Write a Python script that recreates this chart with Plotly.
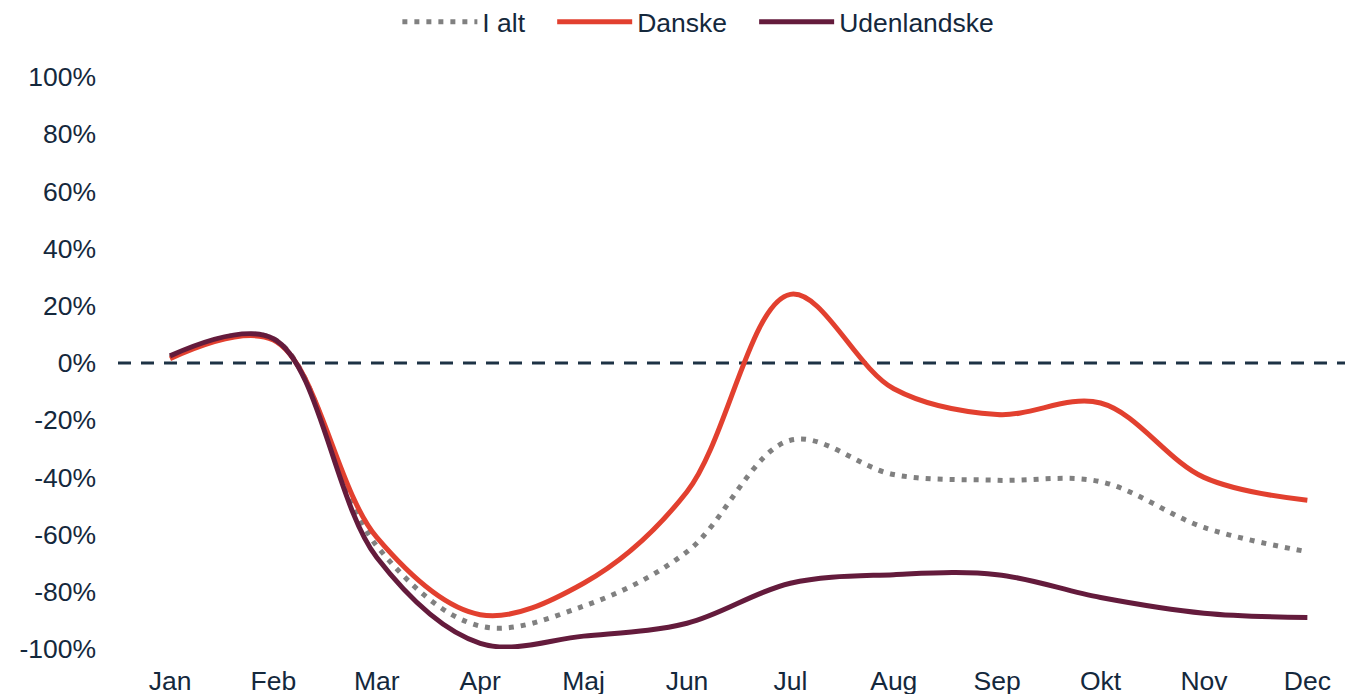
import plotly.graph_objects as go

months = ["Jan", "Feb", "Mar", "Apr", "Maj", "Jun", "Jul", "Aug", "Sep", "Okt", "Nov", "Dec"]
i_alt = [2, 8.5, -64, -92, -85, -66, -27, -39, -41, -41.5, -57.5, -66]
danske = [1.5, 8, -61, -88, -77, -45, 24, -9, -18, -14, -40, -48]
udenlandske = [2.5, 8.5, -68, -98, -95.5, -91, -77, -74, -74, -82, -87.5, -89]
y_ticks = [-100, -80, -60, -40, -20, 0, 20, 40, 60, 80, 100]

x = list(range(len(months)))
TEXT = "#14283C"
FONT = "Liberation Sans, Arial, sans-serif"
FS = 26.5
PAD = "\u00a0\u00a0\u00a0"

fig = go.Figure()
fig.add_trace(go.Scatter(x=x, y=i_alt, name="I alt" + PAD, mode="lines",
                         line=dict(color="#808080", width=5, dash="5px,7px", shape="spline", smoothing=1)))
fig.add_trace(go.Scatter(x=x, y=danske, name="Danske" + PAD, mode="lines",
                         line=dict(color="#E2402F", width=5, shape="spline", smoothing=1)))
fig.add_trace(go.Scatter(x=x, y=udenlandske, name="Udenlandske", mode="lines",
                         line=dict(color="#641B3C", width=5, shape="spline", smoothing=1)))

fig.add_shape(type="line", xref="paper", yref="y", x0=0, x1=1, y0=0, y1=0,
              line=dict(color="#1D3245", width=3, dash="13px,10px"), layer="below")

fig.update_layout(
    width=1352, height=694,
    margin=dict(l=118, r=7, t=77, b=45),
    paper_bgcolor="white", plot_bgcolor="white",
    font=dict(family=FONT, size=FS, color=TEXT),
    showlegend=True,
    legend=dict(orientation="h", x=0.473, xanchor="center", y=0.9683, yanchor="middle",
                yref="container",
                font=dict(size=FS, color=TEXT), itemwidth=75, bgcolor="rgba(0,0,0,0)"),
    xaxis=dict(range=[-0.503, 11.364], tickmode="array", tickvals=x, ticktext=months,
               showgrid=False, zeroline=False, showline=False, ticks="",
               ticklabelstandoff=13, automargin=False,
               tickfont=dict(size=FS, color=TEXT), fixedrange=True),
    yaxis=dict(range=[-100, 100], tickmode="array", tickvals=y_ticks,
               ticktext=[f"{v}%" for v in y_ticks],
               showgrid=False, zeroline=False, showline=False, ticks="",
               ticklabelstandoff=21, automargin=False,
               tickfont=dict(size=FS, color=TEXT), fixedrange=True),
)

fig.write_html("out.html", config={"displayModeBar": False},
               post_script="document.body.style.margin='0';document.body.style.overflow='hidden';")
